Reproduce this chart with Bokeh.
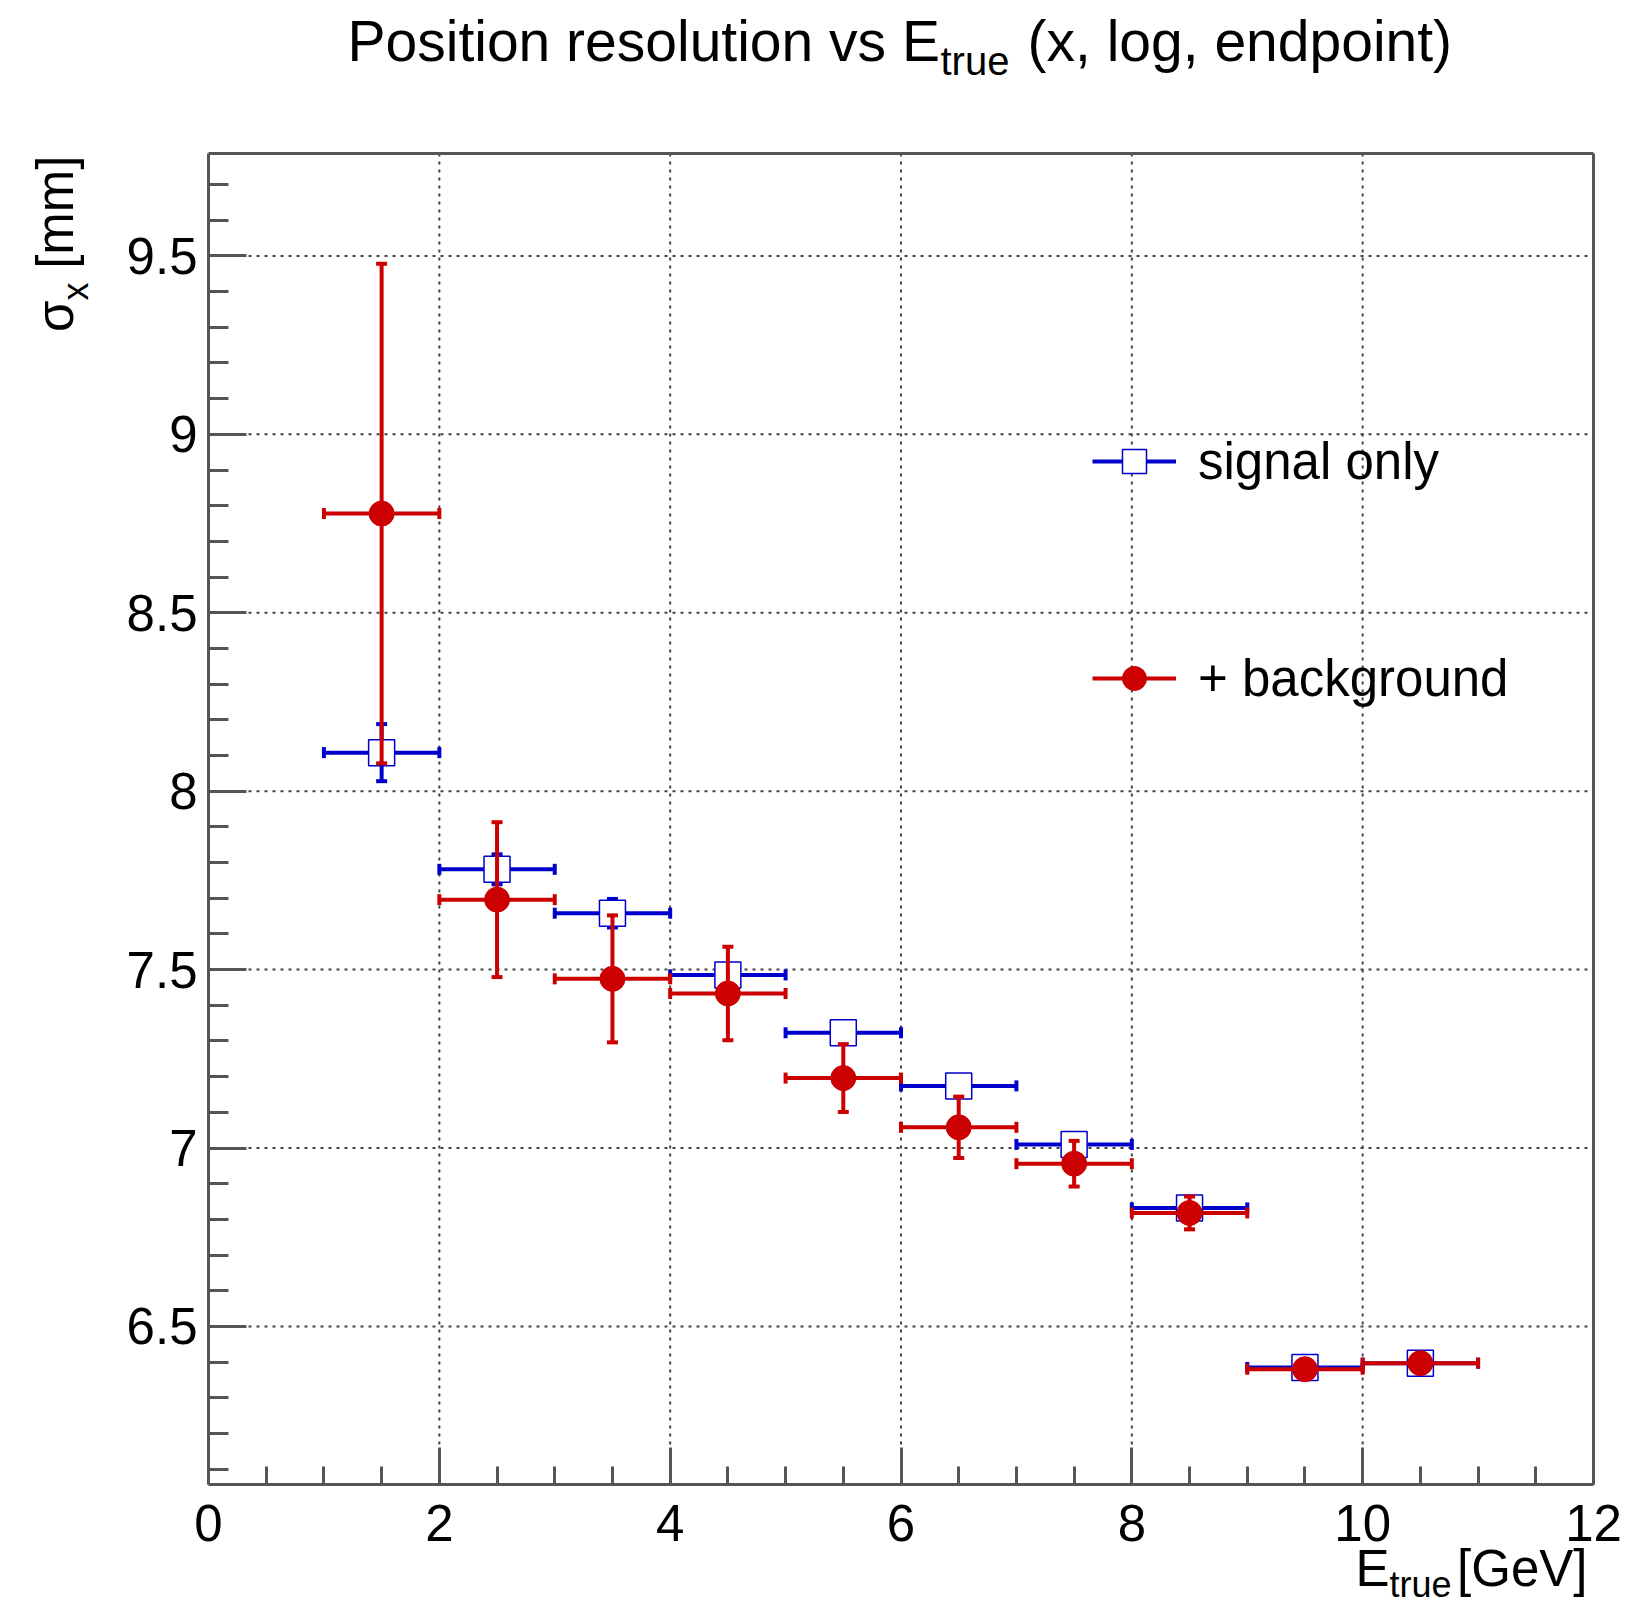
import numpy as np
from bokeh.plotting import figure
from bokeh.models import (ColumnDataSource, Range1d, FixedTicker, CustomJSTickFormatter,
                          Label, Legend, LegendItem, LinearAxis)
from bokeh.embed import file_html
from bokeh.resources import INLINE

# ---------------- data ----------------
E_CENTERS = [1.5, 2.5, 3.5, 4.5, 5.5, 6.5, 7.5, 8.5, 9.5, 10.5]
E_HALF = [0.5, 0.5, 0.5, 0.5, 0.5, 0.5, 0.5, 0.5, 0.5, 0.5]

SIG_Y = [8.108, 7.781, 7.658, 7.485, 7.323, 7.174, 7.010, 6.832, 6.385, 6.397]
SIG_ERR = [0.080, 0.042, 0.040, 0.030, 0.026, 0.024, 0.020, 0.018, 0.010, 0.010]

BKG_Y = [8.778, 7.696, 7.474, 7.433, 7.196, 7.058, 6.956, 6.818, 6.380, 6.397]
BKG_ERR = [0.700, 0.217, 0.178, 0.131, 0.095, 0.086, 0.064, 0.046, 0.015, 0.010]

X_TICKS = [0, 2, 4, 6, 8, 10, 12]
X_MINOR = [0.5, 1, 1.5, 2.5, 3, 3.5, 4.5, 5, 5.5, 6.5, 7, 7.5, 8.5, 9, 9.5, 10.5, 11, 11.5]
X_GRID = [2, 4, 6, 8, 10]
Y_TICKS = [6.5, 7.0, 7.5, 8.0, 8.5, 9.0, 9.5]
Y_MINOR = [6.1, 6.2, 6.3, 6.4, 6.6, 6.7, 6.8, 6.9, 7.1, 7.2, 7.3, 7.4, 7.6, 7.7, 7.8, 7.9,
           8.1, 8.2, 8.3, 8.4, 8.6, 8.7, 8.8, 8.9, 9.1, 9.2, 9.3, 9.4, 9.6, 9.7]
X_RANGE = (0.0, 12.0)
Y_RANGE = (6.057, 9.787)

SIG_LABEL = "signal only"
BKG_LABEL = "+ background"

BLUE = "#0000cc"
RED = "#cc0000"
AXIS_COL = "#555555"
GRID_COL = "#444444"
FONT = "Liberation Sans"

# ---------------- layout (pixels on the canvas) ----------------
W, H = 1630, 1607
PL, PR, PT, PB = 208, 1593, 153, 1484   # plot box edges

sx_ = (X_RANGE[1] - X_RANGE[0]) / (PR - PL)
sy_ = (Y_RANGE[1] - Y_RANGE[0]) / (PB - PT)
x_full = Range1d(X_RANGE[0] - PL * sx_, X_RANGE[1] + (W - PR) * sx_)
y_full = Range1d(Y_RANGE[0] - (H - PB) * sy_, Y_RANGE[1] + PT * sy_)


def make_source(y, err):
    x = np.array(E_CENTERS, dtype=float)
    hw = np.array(E_HALF, dtype=float)
    y = np.array(y, dtype=float)
    e = np.array(err, dtype=float)
    return ColumnDataSource(dict(x=x, y=y, x0=x - hw, x1=x + hw, y0=y - e, y1=y + e))


sig = make_source(SIG_Y, SIG_ERR)
bkg = make_source(BKG_Y, BKG_ERR)

p = figure(width=W, height=H, output_backend="svg", toolbar_location=None,
           x_range=x_full, y_range=y_full, title=None, min_border=0)
p.min_border_left = p.min_border_right = p.min_border_top = p.min_border_bottom = 0
p.background_fill_color = "white"
p.border_fill_color = "white"
p.outline_line_color = None
p.xgrid.visible = False
p.ygrid.visible = False

# ---------------- grid (dotted) ----------------
p.segment(x0=X_GRID, y0=[Y_RANGE[0]] * len(X_GRID), x1=X_GRID, y1=[Y_RANGE[1]] * len(X_GRID),
          line_color=GRID_COL, line_width=2, line_dash="3 5")
p.segment(x0=[X_RANGE[0]] * len(Y_TICKS), y0=Y_TICKS, x1=[X_RANGE[1]] * len(Y_TICKS), y1=Y_TICKS,
          line_color=GRID_COL, line_width=2, line_dash="3 5")

# ---------------- axes (fixed inside the full-canvas frame) ----------------
fmt = "return (Math.round(tick*10)/10).toString();"
xa = p.xaxis[0]
ya = p.yaxis[0]
xa.fixed_location = Y_RANGE[0]
ya.fixed_location = X_RANGE[0]
xa.bounds = X_RANGE
ya.bounds = Y_RANGE
xa.ticker = FixedTicker(ticks=X_TICKS, minor_ticks=X_MINOR)
ya.ticker = FixedTicker(ticks=Y_TICKS, minor_ticks=Y_MINOR)
xa.formatter = CustomJSTickFormatter(code=fmt)
ya.formatter = CustomJSTickFormatter(code=fmt)
for ax in (xa, ya):
    ax.axis_line_color = AXIS_COL
    ax.axis_line_width = 3
    ax.major_tick_line_color = AXIS_COL
    ax.minor_tick_line_color = AXIS_COL
    ax.major_tick_line_width = 3
    ax.minor_tick_line_width = 3
    ax.major_tick_out = 0
    ax.minor_tick_out = 0
    ax.major_label_text_font = FONT
    ax.major_label_text_font_size = "51px"
    ax.major_label_text_color = "black"
xa.major_tick_in = 37
xa.minor_tick_in = 18
ya.major_tick_in = 38
ya.minor_tick_in = 20
xa.major_label_standoff = 20
ya.major_label_standoff = 11

# top and right frame edges
top_ax = LinearAxis(fixed_location=Y_RANGE[1], bounds=X_RANGE,
                    ticker=FixedTicker(ticks=[], minor_ticks=[]),
                    axis_line_color=AXIS_COL, axis_line_width=3,
                    major_tick_line_color=None, minor_tick_line_color=None,
                    major_label_text_alpha=0)
right_ax = LinearAxis(fixed_location=X_RANGE[1], bounds=Y_RANGE,
                      ticker=FixedTicker(ticks=[], minor_ticks=[]),
                      axis_line_color=AXIS_COL, axis_line_width=3,
                      major_tick_line_color=None, minor_tick_line_color=None,
                      major_label_text_alpha=0)
p.add_layout(top_ax, "above")
p.add_layout(right_ax, "right")

# ---------------- series ----------------
LW = 4
CAP = 11


def draw_series(src, color, marker, msize, mline, mfill):
    h = p.segment(x0="x0", y0="y", x1="x1", y1="y", source=src, line_color=color, line_width=LW)
    p.segment(x0="x", y0="y0", x1="x", y1="y1", source=src, line_color=color, line_width=LW)
    p.scatter(x="x0", y="y", source=src, marker="dash", angle=np.pi / 2, size=CAP,
              line_color=color, line_width=LW)
    p.scatter(x="x1", y="y", source=src, marker="dash", angle=np.pi / 2, size=CAP,
              line_color=color, line_width=LW)
    p.scatter(x="x", y="y0", source=src, marker="dash", size=CAP, line_color=color, line_width=LW)
    p.scatter(x="x", y="y1", source=src, marker="dash", size=CAP, line_color=color, line_width=LW)
    m = p.scatter(x="x", y="y", source=src, marker=marker, size=msize,
                  line_color=color, line_width=mline, fill_color=mfill)
    return h, m


sig_h, sig_m = draw_series(sig, BLUE, "square", 26, 1.5, "white")
bkg_h, bkg_m = draw_series(bkg, RED, "circle", 25, 1, RED)

legend = Legend(items=[LegendItem(label=SIG_LABEL, renderers=[sig_h, sig_m]),
                       LegendItem(label=BKG_LABEL, renderers=[bkg_h, bkg_m])],
                location=(1092, H - 708), orientation="vertical",
                label_text_font=FONT, label_text_font_size="51px", label_text_color="black",
                glyph_width=84, glyph_height=60, label_height=60, label_standoff=22,
                spacing=157, padding=0, margin=0,
                border_line_alpha=0, background_fill_alpha=0)
p.add_layout(legend)

# ---------------- texts (title & axis titles, with subscripts) ----------------
K_BASE = 0.37   # measured offset of the rendered baseline, in em


def lab(text, cx, cy, size, align="left", rotated=False):
    # cx, cy: wanted baseline anchor in canvas px (from top-left)
    if rotated:
        cx = cx - K_BASE * size
        angle = np.pi / 2
    else:
        cy = cy - K_BASE * size
        angle = 0.0
    p.add_layout(Label(x=cx, y=H - cy, x_units="screen", y_units="screen",
                       text=text, text_font=FONT, text_font_size=f"{size}px",
                       text_color="black", text_align=align, text_baseline="alphabetic",
                       angle=angle))


# title
lab("Position resolution vs E", 347, 62, 57)
lab("true", 940, 75, 40)
lab("(x, log, endpoint)", 1027, 62, 57)

# x axis title (right aligned at the plot's right edge)
lab("[GeV]", 1587, 1587, 51, align="right")
lab("true", 1451, 1597, 36, align="right")
lab("E", 1389, 1587, 51, align="right")

# y axis title (rotated, right aligned at the plot's top edge)
lab("[mm]", 74, 155, 51, align="right", rotated=True)
lab("x", 88, 282, 36, align="right", rotated=True)
lab("σ", 74, 300, 51, align="right", rotated=True)

open("out.html", "w").write(file_html(p, INLINE))
